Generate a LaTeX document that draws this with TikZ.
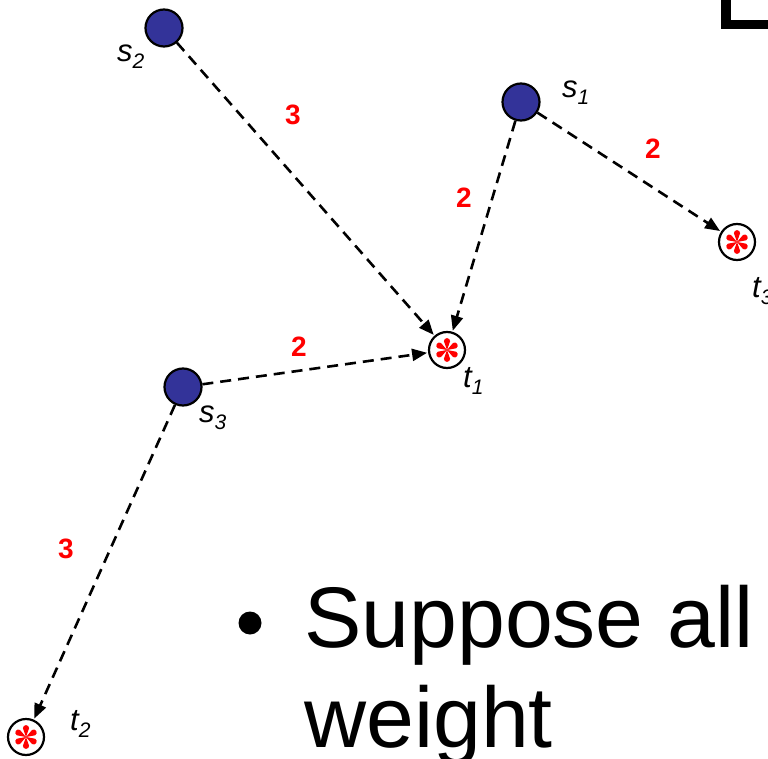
\documentclass[tikz,border=0pt]{standalone}
\usepackage{fontspec}
\setmainfont{Liberation Sans}
\usetikzlibrary{arrows.meta}

\definecolor{srcblue}{RGB}{51,51,153}

\newcommand{\nlabel}[2]{\fontsize{31}{31}\selectfont\itshape #1\raisebox{-7pt}{\fontsize{21}{21}\selectfont #2}}

\tikzset{
  src/.style={circle, draw=black, line width=2.2pt, fill=srcblue, minimum size=37pt, inner sep=0pt},
  tgt/.style={circle, draw=black, line width=2.2pt, fill=white, minimum size=36pt, inner sep=0pt},
  link/.style={draw=black, line width=2.6pt, dash pattern=on 11pt off 7pt,
               -{Triangle[length=15pt,width=12pt]}, shorten >=1pt},
  weight/.style={text=red, font=\fontsize{28}{28}\selectfont\bfseries, inner sep=0pt},
  namelbl/.style={anchor=base west, inner sep=0pt},
  bigtext/.style={anchor=base west, inner sep=0pt, font=\fontsize{86}{86}\selectfont}
}

\begin{document}
\begin{tikzpicture}[x=1pt,y=-1pt]
  \useasboundingbox (0,0) rectangle (768,759);

  % corner of a heading letter
  \fill[black] (721,0) rectangle (731,29);
  \fill[black] (721,20) rectangle (768,29);

  % sources
  \node[src] (s2) at (164,28) {};
  \node[src] (s1) at (521,102) {};
  \node[src] (s3) at (183,387) {};

  % targets
  \node[tgt] (t1) at (447,350) {};
  \node[tgt] (t3) at (737,242) {};
  \node[tgt] (t2) at (26,737) {};

  % six-petal marks inside the targets
  \foreach \n in {t1,t2,t3} {
    \begin{scope}[shift={(\n.center)}]
      \foreach \a in {30,90,...,330} {
        \fill[red, rotate=\a] (0,0) -- (8.8,-3.1)
          arc[start angle=-90, end angle=90, radius=3.1] -- cycle;
      }
    \end{scope}
  }

  % connectors
  \draw[link] (s2) -- (t1);
  \draw[link] (s1) -- (t1);
  \draw[link] (s1) -- (t3);
  \draw[link] (s3) -- (t1);
  \draw[link] (s3) -- (t2);

  % weights
  \node[weight] (w21) at (293,115) {3};
  \node[weight] (w13) at (653,149) {2};
  \node[weight] (w11) at (464,198) {2};
  \node[weight] (w31) at (299,347) {2};
  \node[weight] (w32) at (66,549) {3};

  % node names
  \node[namelbl] (ls2) at (117,62) {\nlabel{s}{2}};
  \node[namelbl] (ls1) at (562,98) {\nlabel{s}{1}};
  \node[namelbl] (ls3) at (199,422) {\nlabel{s}{3}};
  \node[namelbl] (lt1) at (463,387) {\nlabel{t}{1}};
  \node[namelbl] (lt3) at (752,298) {\nlabel{t}{3}};
  \node[namelbl] (lt2) at (70,730) {\nlabel{t}{2}};

  % bullet text
  \fill[black] (250,623) circle (11.5);
  \node[bigtext] (line1) at (304,647) {Suppose all};
  \node[bigtext] (line2) at (304,747) {weight};
\end{tikzpicture}
\end{document}
